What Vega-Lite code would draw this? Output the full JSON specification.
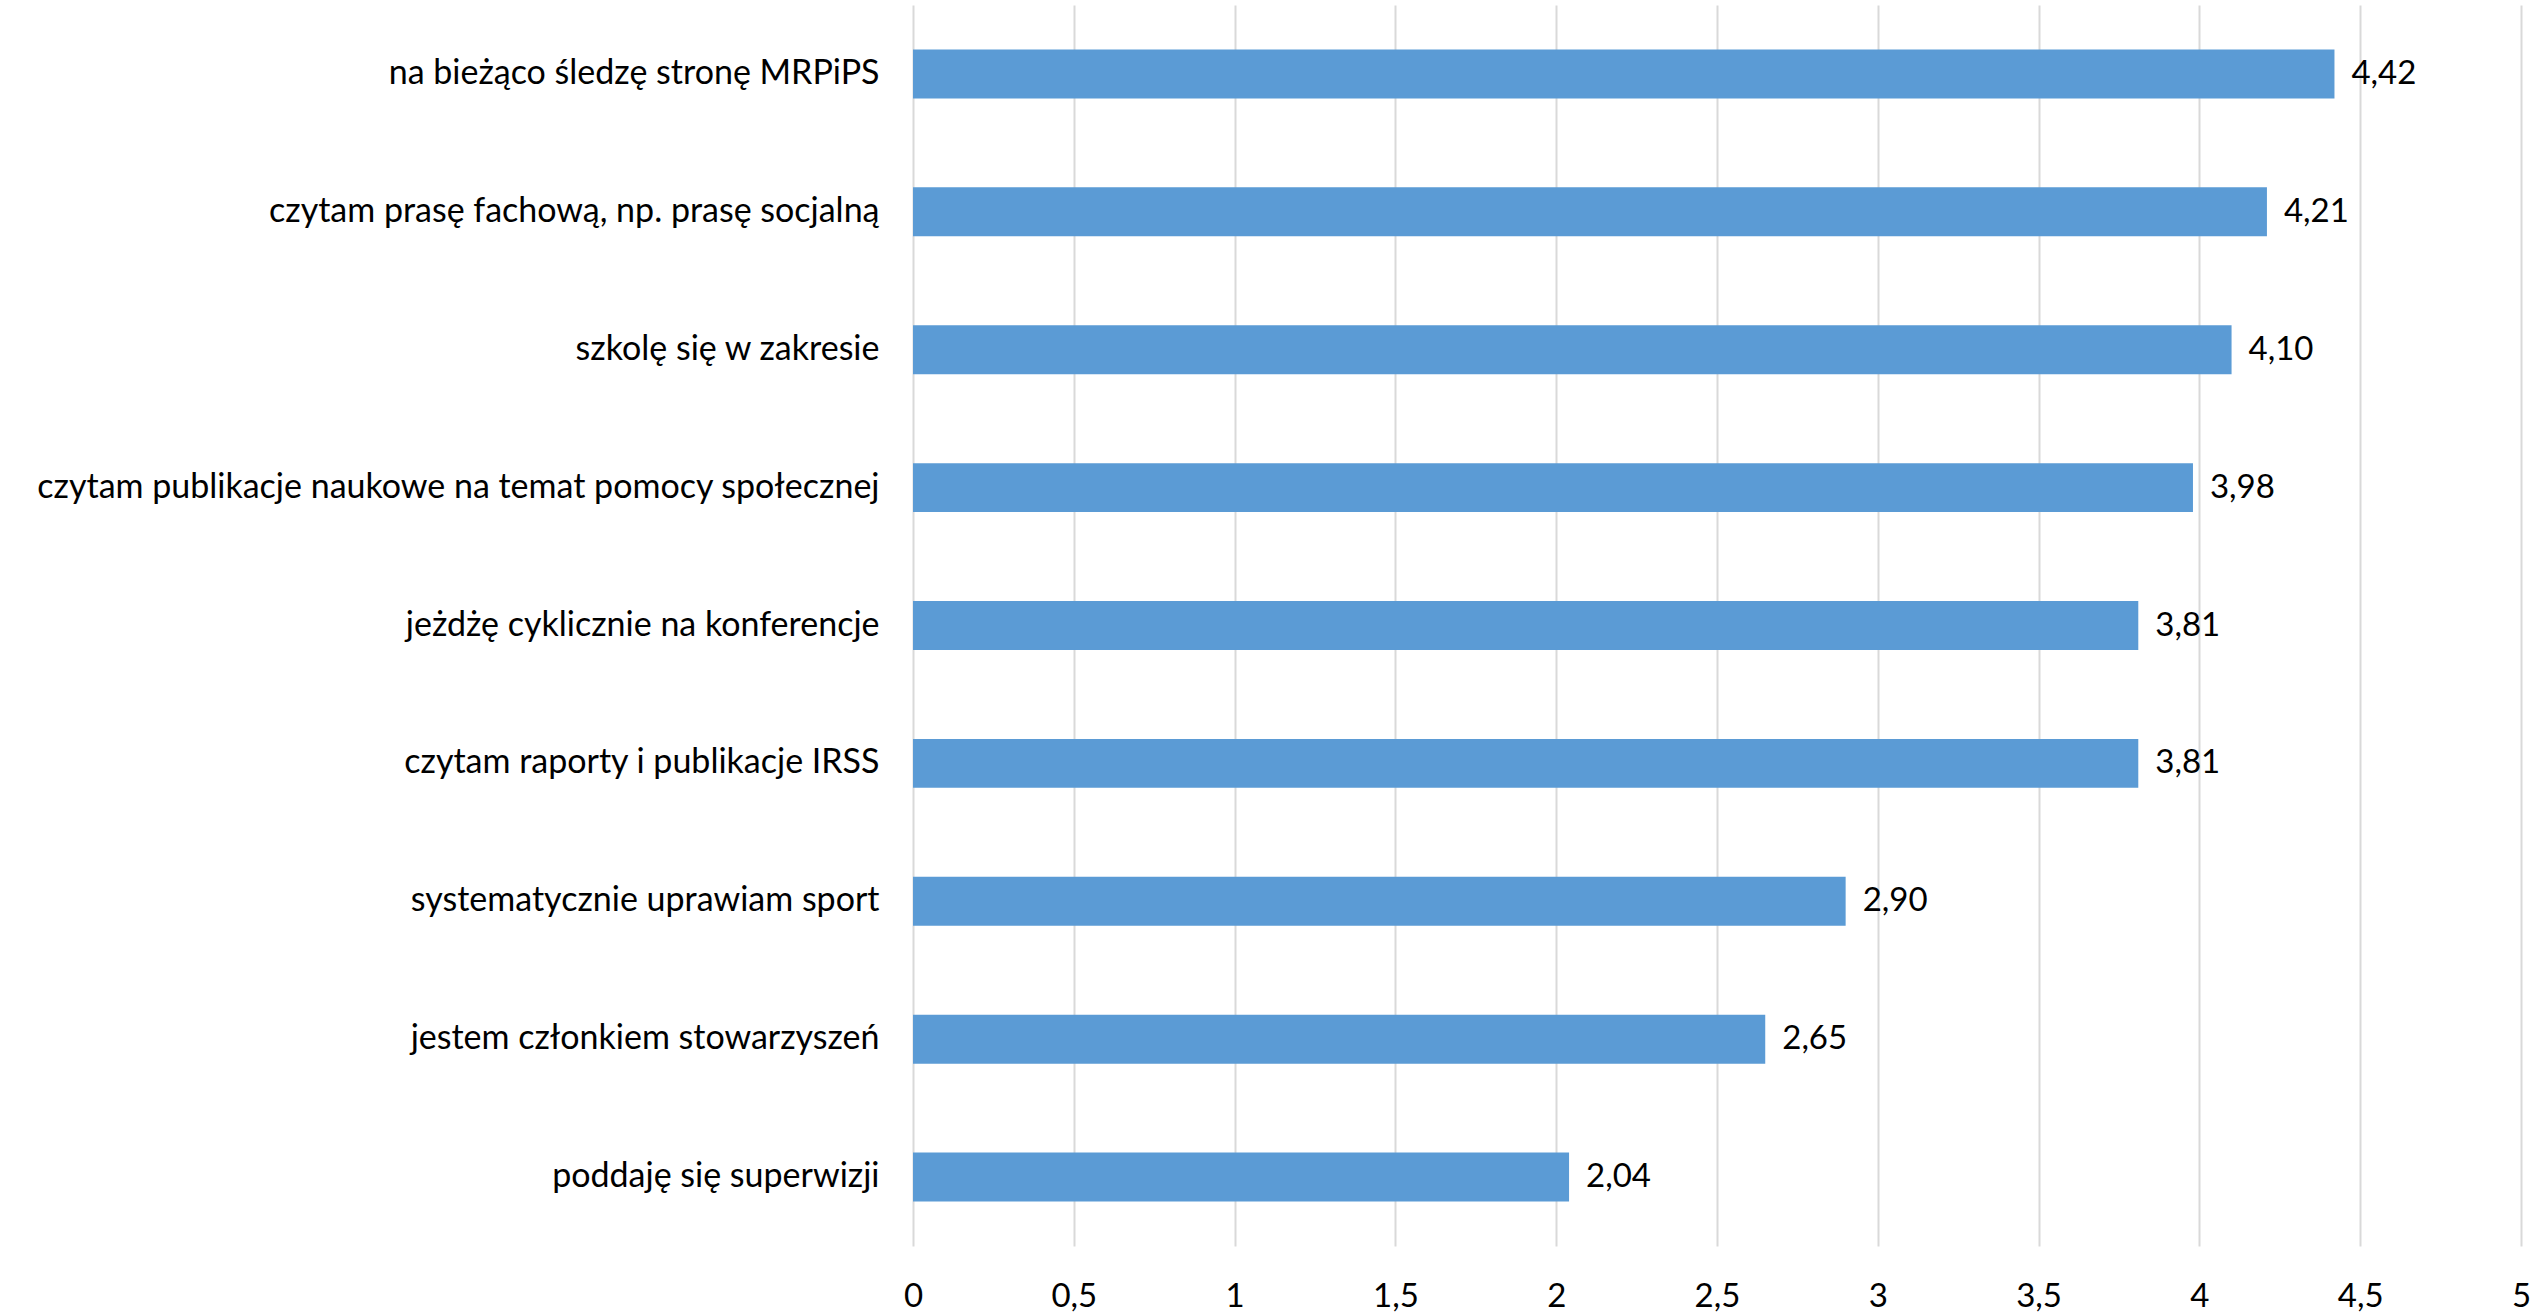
{
  "$schema": "https://vega.github.io/schema/vega-lite/v6.json",
  "autosize": {"type": "none"},
  "width": 1608,
  "height": 1241,
  "padding": {"left": 913, "top": 5, "right": 18, "bottom": 67},
  "background": "white",
  "config": {
    "locale": {"number": {"decimal": ",", "thousands": " ", "grouping": [3], "currency": ["", " zł"]}},
    "view": {"stroke": null},
    "font": "Lato"
  },
  "data": {
    "values": [
      {"kategoria": "na bieżąco śledzę stronę MRPiPS", "wartosc": 4.42},
      {"kategoria": "czytam prasę fachową, np. prasę socjalną", "wartosc": 4.21},
      {"kategoria": "szkolę się w zakresie", "wartosc": 4.10},
      {"kategoria": "czytam publikacje naukowe na temat pomocy społecznej", "wartosc": 3.98},
      {"kategoria": "jeżdżę cyklicznie na konferencje", "wartosc": 3.81},
      {"kategoria": "czytam raporty i publikacje IRSS", "wartosc": 3.81},
      {"kategoria": "systematycznie uprawiam sport", "wartosc": 2.90},
      {"kategoria": "jestem członkiem stowarzyszeń", "wartosc": 2.65},
      {"kategoria": "poddaję się superwizji", "wartosc": 2.04}
    ]
  },
  "encoding": {
    "y": {
      "field": "kategoria",
      "type": "nominal",
      "sort": null,
      "scale": {"paddingInner": 0.645, "paddingOuter": 0.3225},
      "axis": {
        "title": null,
        "domain": false,
        "ticks": false,
        "labelPadding": 34,
        "labelFontSize": 34,
        "labelColor": "#000000",
        "labelFont": "Lato",
        "labelLimit": 1000
      }
    },
    "x": {
      "field": "wartosc",
      "type": "quantitative",
      "scale": {"domain": [0, 5], "nice": false},
      "axis": {
        "title": null,
        "values": [0, 0.5, 1, 1.5, 2, 2.5, 3, 3.5, 4, 4.5, 5],
        "format": "~g",
        "domain": false,
        "ticks": false,
        "grid": true,
        "gridColor": "#d9d9d9",
        "gridWidth": 2,
        "labelPadding": 34,
        "labelFontSize": 33,
        "labelColor": "#000000",
        "labelFont": "Lato",
        "labelFlush": false
      }
    }
  },
  "layer": [
    {"mark": {"type": "bar", "color": "#5b9bd5"}},
    {
      "mark": {"type": "text", "align": "left", "baseline": "middle", "dx": 17, "fontSize": 33, "color": "#000000", "font": "Lato"},
      "encoding": {"text": {"field": "wartosc", "type": "quantitative", "format": ".2f"}}
    }
  ]
}
